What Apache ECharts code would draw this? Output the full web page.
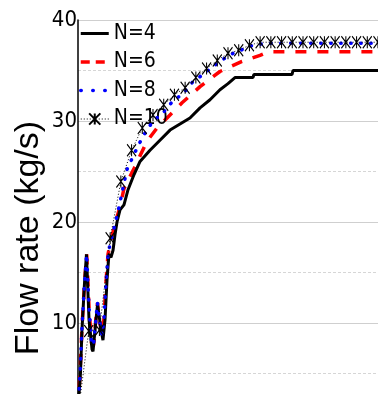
<!DOCTYPE html>
<html>
<head>
<meta charset="utf-8">
<script src="https://cdn.jsdelivr.net/npm/echarts@6/dist/echarts.min.js"></script>
<style>
  html, body { margin: 0; padding: 0; background: #fff; }
  #chart { width: 378px; height: 394px; }
</style>
</head>
<body>
<div id="chart"></div>
<script>
// x is in sample steps (0..28), y in kg/s
const n4 = [
  [0, 1.5], [0.23, 5], [0.37, 9.3], [0.61, 14], [0.79, 16.8], [1.03, 10.3],
  [1.31, 7.4], [1.4, 7.2], [1.68, 10.3], [1.82, 11.8], [1.96, 10.8], [2.15, 9.3],
  [2.33, 8.3], [2.52, 10.3], [2.71, 14.3], [2.89, 16.8], [3.08, 16.5], [3.27, 17.2],
  [3.45, 18.7], [3.64, 20], [3.92, 21.2], [4.29, 21.7], [4.67, 23.2], [5.23, 24.7],
  [5.79, 26], [6.72, 27.1], [7.65, 28.1], [8.59, 29.1], [9.52, 29.7], [10.45, 30.3],
  [11.39, 31.3], [12.32, 32.1], [13.25, 33.1], [14.0, 33.7], [14.65, 34.3],
  [16.33, 34.3], [16.42, 34.6], [19.97, 34.6], [20.07, 35.0], [28, 35.0]
];
const n6 = [
  [0, 1.5], [0.19, 5], [0.37, 9.5], [0.61, 14], [0.81, 16.8], [1.03, 11.5],
  [1.26, 8], [1.45, 7.8], [1.68, 10.5], [1.82, 12], [2.0, 10.3], [2.24, 8.8],
  [2.43, 10.5], [2.61, 14], [2.8, 16.8], [2.99, 17.8], [3.45, 19.8], [3.92, 21.5],
  [4.29, 23.3], [5.23, 25.3], [6.44, 28], [7.37, 29.3], [8.31, 30.3], [9.71, 31.8],
  [11.39, 33.4], [13.25, 34.9], [15.31, 35.9], [16.99, 36.5], [17.73, 36.85], [28, 36.85]
];
const n8 = [
  [0, 1.5], [0.19, 5], [0.37, 9.5], [0.61, 14], [0.81, 16.8], [1.03, 11.5],
  [1.26, 8], [1.45, 7.8], [1.68, 10.5], [1.82, 12], [2.0, 10.3], [2.24, 8.8],
  [2.43, 10.5], [2.61, 14], [2.8, 16.8], [2.99, 17.8], [3.73, 21.0], [4.57, 25.2],
  [5.32, 26.9], [6.07, 28.5], [7.0, 30], [7.93, 30.8], [8.87, 32], [9.8, 32.7],
  [10.73, 33.9], [11.67, 34.6], [12.6, 35.4], [13.53, 36.1], [14.47, 36.7],
  [15.4, 37.1], [16.33, 37.5], [17.6, 37.7], [28, 37.7]
];
const n10 = [
  1.0, 9.2, 9.3, 18.4, 24.0, 27.1, 29.3, 30.6, 31.6, 32.6, 33.3, 34.3, 35.2, 36.0,
  36.7, 37.0, 37.5, 37.8, 37.8, 37.8, 37.8, 37.8, 37.8, 37.8, 37.8, 37.8, 37.8, 37.8, 37.8
];
const seriesNames = ['N=4', 'N=6', 'N=8', 'N=10'];
const yTicks = [0, 10, 20, 30, 40];

const narrow = "'Liberation Sans Narrow', 'DejaVu Sans Condensed', sans-serif";

const chart = echarts.init(document.getElementById('chart'));

const option = {
  animation: false,
  backgroundColor: '#fff',
  grid: { left: 78, top: 20, right: 0, bottom: -30, outerBoundsMode: 'none', containLabel: false },
  legend: {
    orient: 'vertical',
    left: 79,
    top: 23,
    padding: 0,
    itemWidth: 28,
    itemHeight: 14,
    itemGap: 7.5,
    data: [
      { name: seriesNames[0], itemStyle: { opacity: 0 }, lineStyle: { width: 3 } },
      { name: seriesNames[1], itemStyle: { opacity: 0 }, lineStyle: { width: 3.5, type: [9, 6] } },
      { name: seriesNames[2], itemStyle: { opacity: 0 }, lineStyle: { width: 3.5, type: [0.5, 11.5], cap: 'round' } },
      { name: seriesNames[3], lineStyle: { width: 1 } }
    ],
    textStyle: { fontFamily: narrow, fontSize: 21, color: '#000' }
  },
  xAxis: {
    type: 'value',
    position: 'top',
    min: 0,
    max: 28,
    interval: 2,
    axisLine: { show: true, lineStyle: { color: '#000', width: 1.5 } },
    axisTick: { show: true, inside: true, length: 3, lineStyle: { color: '#000' } },
    axisLabel: { show: false },
    splitLine: { show: false }
  },
  yAxis: {
    type: 'value',
    min: yTicks[0],
    max: yTicks[yTicks.length - 1],
    interval: 10,
    axisLine: { show: true, lineStyle: { color: '#000', width: 1.5 } },
    axisTick: { show: false },
    axisLabel: { fontFamily: narrow, fontSize: 22, color: '#000', margin: 1 },
    splitLine: { show: true, lineStyle: { color: '#cfcfcf', width: 1.2 } },
    minorTick: { show: false, splitNumber: 2 },
    minorSplitLine: { show: true, lineStyle: { color: '#d6d6d6', width: 1.2, type: [3, 2] } }
  },
  graphic: [{
    type: 'text',
    x: 29,
    y: 238,
    rotation: Math.PI / 2,
    style: {
      text: 'Flow rate (kg/s)',
      font: "34px 'Liberation Sans', Arial, sans-serif",
      fill: '#000',
      textAlign: 'center',
      textVerticalAlign: 'middle'
    }
  }],
  series: [
    {
      name: seriesNames[0], type: 'line', data: n4, showSymbol: false, symbol: 'circle',
      lineStyle: { color: '#000', width: 3 }, itemStyle: { color: '#000' }, z: 4
    },
    {
      name: seriesNames[1], type: 'line', data: n6, showSymbol: false, symbol: 'circle',
      lineStyle: { color: '#ff0000', width: 3.5, type: [11, 11] }, itemStyle: { color: '#ff0000' }, z: 3
    },
    {
      name: seriesNames[2], type: 'line', data: n8, showSymbol: false, symbol: 'circle',
      lineStyle: { color: '#0000ff', width: 3.5, type: [0.5, 9.5], cap: 'round' }, itemStyle: { color: '#0000ff' }, z: 5
    },
    {
      name: seriesNames[3], type: 'line', data: n10.map((v, i) => [i, v]),
      symbol: 'path://M0,0L8,12M8,0L0,12M4,0L4,12',
      symbolSize: [9, 12],
      lineStyle: { color: '#000', width: 1, type: [1, 2] },
      itemStyle: { color: 'none', borderColor: '#000', borderWidth: 1.2 },
      z: 6
    }
  ]
};

chart.setOption(option);
</script>
</body>
</html>
